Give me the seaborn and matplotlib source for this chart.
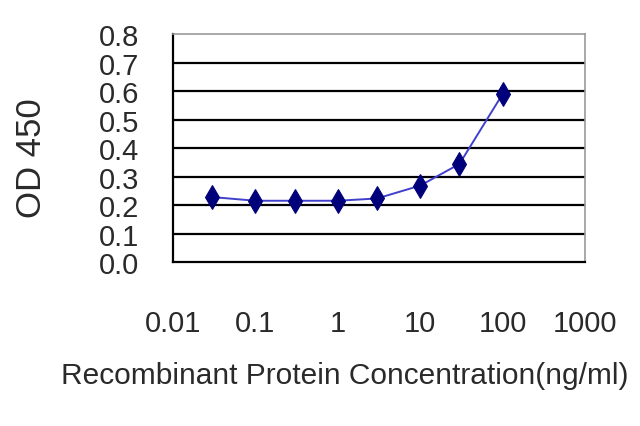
import matplotlib
matplotlib.use("Agg")
import matplotlib.pyplot as plt
import pandas as pd
import seaborn as sns

# Values
concentration = [0.03, 0.1, 0.3, 1, 3, 10, 30, 100]
od450 = [0.228, 0.215, 0.215, 0.215, 0.223, 0.268, 0.344, 0.589]
x_ticks = [0.01, 0.1, 1, 10, 100, 1000]
x_tick_labels = ["0.01", "0.1", "1", "10", "100", "1000"]
y_ticks = [0.0, 0.1, 0.2, 0.3, 0.4, 0.5, 0.6, 0.7, 0.8]
y_tick_labels = ["0.0", "0.1", "0.2", "0.3", "0.4", "0.5", "0.6", "0.7", "0.8"]

df = pd.DataFrame({"conc": concentration, "od": od450})

sns.set_theme(style="white")
plt.rcParams["font.family"] = ["Liberation Sans", "DejaVu Sans"]

fig = plt.figure(figsize=(6.4, 4.27), dpi=100)
ax = fig.add_axes([0.270, 0.384, 0.644, 0.534])

ax.set_xscale("log")
for y in y_ticks[1:-1]:
    ax.axhline(y, color="black", lw=1.6, zorder=1)

sns.lineplot(data=df, x="conc", y="od", ax=ax, color="#4040cc", lw=1.4,
             marker="d", markersize=12, markerfacecolor="#00007a",
             markeredgecolor="#00007a", zorder=3)

ax.set_xlim(0.01, 1000)
ax.set_ylim(0.0, 0.8)
ax.set_xticks(x_ticks)
ax.set_xticklabels(x_tick_labels)
ax.minorticks_off()
ax.set_yticks(y_ticks)
ax.set_yticklabels(y_tick_labels)

ax.tick_params(axis="x", direction="in", length=6, width=1.2, color="black",
               labelsize=21, pad=34, labelcolor="#2a2a2a")
ax.tick_params(axis="y", length=0, labelsize=21, pad=24, labelcolor="#2a2a2a")

for side in ["left", "bottom"]:
    ax.spines[side].set_color("black")
    ax.spines[side].set_linewidth(1.6)
for side in ["top", "right"]:
    ax.spines[side].set_color("#999999")
    ax.spines[side].set_linewidth(1.2)

ax.set_xlabel("Recombinant Protein Concentration(ng/ml)", fontsize=21.5,
              color="#2a2a2a")
ax.xaxis.set_label_coords(0.417, -0.435)
ax.set_ylabel("OD 450", fontsize=25, color="#2a2a2a")
ax.yaxis.set_label_coords(-0.304, 0.46)

fig.savefig("out.png", dpi=100)
